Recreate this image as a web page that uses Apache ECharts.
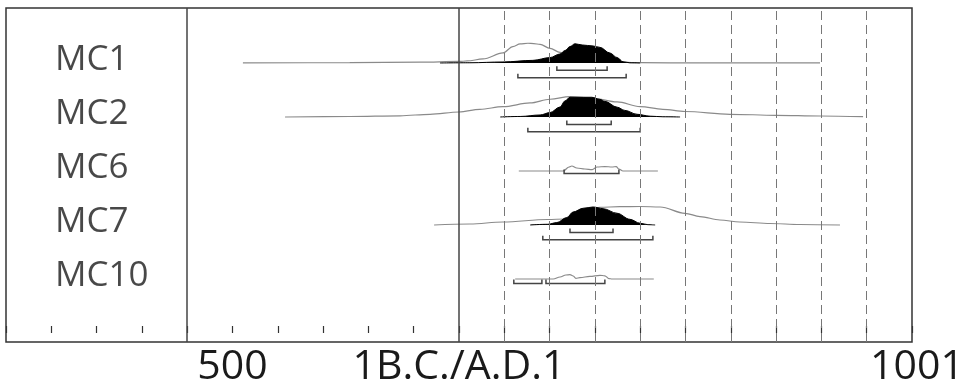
<!DOCTYPE html>
<html><head><meta charset="utf-8">
<script src="https://cdn.jsdelivr.net/npm/echarts@6/dist/echarts.min.js"></script>
<style>html,body{margin:0;padding:0;background:#fff}#c{width:963px;height:384px}</style>
</head><body><div id="c"></div>
<script>
// ---- data ----
const samples = ['MC1', 'MC2', 'MC6', 'MC7', 'MC10'];
const rowBase = [5, 4, 3, 2, 1];
const tickLabels = { '-500': '500', '0': '1B.C./A.D.1', '1000': '1001' };
const solidYears = [-600, 0];
const dashedYears = [100, 200, 300, 400, 500, 600, 700, 800, 900];

// relative probability densities [year, density]
const mc1Prior = [[-477,0],[-241,0.015],[-86,0.04],[0,0.075],[18,0.1],[53,0.2],[97,0.5],[119,0.82],[135,0.95],[152,0.985],[165,0.97],[179,0.93],[201,0.73],[223,0.53],[256,0.3],[300,0.15],[344,0.05],[400,0.015],[532,0],[797,0]];
const mc1Post = [[-42,0],[24,0.01],[97,0.05],[163,0.13],[201,0.27],[223,0.45],[234,0.62],[245,0.82],[256,0.96],[272,0.9],[296,0.85],[311,0.78],[333,0.5],[349,0.27],[362,0.06],[377,0.01],[400,0]];
const mc2Prior = [[-384,0],[-241,0.025],[-130,0.06],[-64,0.135],[0,0.25],[46,0.385],[97,0.515],[157,0.7],[201,0.885],[245,1.02],[296,0.935],[349,0.75],[400,0.52],[450,0.385],[499,0.275],[598,0.135],[700,0.085],[797,0.05],[892,0.015]];
const mc2Post = [[91,0],[135,0.025],[179,0.1],[201,0.22],[223,0.5],[234,0.8],[245,0.985],[256,0.985],[293,0.985],[311,0.88],[322,0.78],[349,0.49],[366,0.33],[393,0.135],[422,0.04],[450,0.01],[488,0]];
const mc6Prior = [[132,0],[230,0],[243,0.2],[249,0.25],[260,0.15],[278,0.1],[294,0.065],[305,0.2],[322,0.22],[338,0.2],[347,0.22],[353,0.1],[362,0],[439,0]];
const mc7Prior = [[-55,0],[24,0.05],[97,0.15],[196,0.275],[234,0.3],[267,0.6],[311,0.885],[355,0.915],[400,0.925],[444,0.9],[499,0.585],[532,0.42],[576,0.25],[620,0.15],[687,0.075],[753,0.025],[841,0]];
const mc7Post = [[157,0],[196,0.035],[216,0.12],[238,0.37],[252,0.65],[274,0.835],[296,0.9],[318,0.815],[349,0.585],[377,0.285],[400,0.085],[417,0.015],[433,0]];
const mc10Prior = [[124,0],[208,0],[223,0.1],[236,0.2],[245,0.215],[252,0.15],[258,0.03],[267,0.07],[289,0.13],[311,0.185],[322,0.16],[331,0.02],[338,0],[430,0]];

const priors = [mc1Prior, mc2Prior, mc6Prior, mc7Prior, mc10Prior];
const posteriors = [mc1Post, mc2Post, null, mc7Post, null];

// highest probability ranges: [sampleIndex, start, end, level]
const ranges = [
  [0, 216, 327, 1], [0, 130, 369, 2],
  [1, 238, 336, 1], [1, 152, 400, 2],
  [2, 232, 353, 0.35],
  [3, 245, 340, 1], [3, 185, 428, 2],
  [4, 121, 183, 0.6], [4, 192, 322, 0.6]
];

// ---- layout / style ----
const PEAK = 20 / 54;      // density 1 -> row fraction
const LEVEL_PX = 7.4;
const TICK_PX = 4;
const LABEL_X = -892;
const FONT = 'Open Sans';

const toRow = (arr, base) => arr.map(p => [p[0], base + p[1] * PEAK]);

const series = [];
series.push({
  type: 'line', data: [], silent: true,
  markLine: {
    silent: true, symbol: 'none', label: { show: false }, animation: false,
    data: solidYears.map(y => ({ xAxis: y, lineStyle: { color: '#444', width: 1.5, type: 'solid' } }))
      .concat(dashedYears.map(y => ({ xAxis: y, lineStyle: { color: '#777', width: 1, type: [9, 5] } })))
  }
});
samples.forEach((s, i) => {
  series.push({
    type: 'line', data: toRow(priors[i], rowBase[i]), showSymbol: false, smooth: 0.35, smoothMonotone: 'x',
    lineStyle: { color: '#8a8a8a', width: 1.2 }, silent: true, z: 2
  });
  if (posteriors[i]) {
    series.push({
      type: 'line', data: toRow(posteriors[i], rowBase[i]), showSymbol: false, smooth: 0.35, smoothMonotone: 'x',
      lineStyle: { color: '#000', width: 1 },
      areaStyle: { color: '#000', opacity: 1, origin: rowBase[i] }, silent: true, z: 3
    });
  }
});
series.push({
  type: 'custom', z: 4, silent: true,
  data: ranges.map(r => [rowBase[r[0]], r[1], r[2], r[3]]),
  encode: { x: [1, 2], y: 0 },
  renderItem: function (params, api) {
    const row = api.value(0), s = api.value(1), e = api.value(2), lvl = api.value(3);
    const a = api.coord([s, row]), b = api.coord([e, row]);
    const y = a[1] + lvl * LEVEL_PX;
    return {
      type: 'polyline',
      shape: { points: [[a[0], y - TICK_PX], [a[0], y], [b[0], y], [b[0], y - TICK_PX]] },
      style: { stroke: '#444', lineWidth: 1.5, fill: null }
    };
  }
});
series.push({
  type: 'scatter', symbolSize: 0, silent: true,
  data: samples.map((s, i) => ({ name: s, value: [LABEL_X, rowBase[i]] })),
  label: {
    show: true, formatter: '{b}', position: [0, -3], align: 'left', verticalAlign: 'middle',
    fontFamily: FONT, fontSize: 35, color: '#1a1a1a'
  }
});

const chart = echarts.init(document.getElementById('c'), null, { renderer: 'canvas' });
chart.setOption({
  animation: false,
  backgroundColor: '#fff',
  grid: { left: 6, right: 51, top: 8, bottom: 42, containLabel: false, outerBoundsMode: 'none',
          show: true, borderColor: '#333', borderWidth: 1.5, backgroundColor: 'transparent' },
  xAxis: {
    type: 'value', min: -1000, max: 1000, interval: 100,
    axisLine: { show: false },
    axisTick: { show: true, inside: true, length: 7, lineStyle: { color: '#333', width: 1.2 } },
    splitLine: { show: false },
    axisLabel: {
      show: true, margin: 5, showMaxLabel: true, showMinLabel: true,
      fontFamily: FONT, fontSize: 41, color: '#1a1a1a',
      formatter: v => { const t = tickLabels[String(v)]; if (!t) return ''; return v === 1000 ? '{r|' + t + '}' : t; },
      rich: { r: { fontFamily: FONT, fontSize: 41, color: '#1a1a1a', padding: [0, 0, 0, 10] } }
    }
  },
  yAxis: { type: 'value', min: -0.167, max: 6.018, show: false, splitLine: { show: false } },
  series: series
});
</script></body></html>
